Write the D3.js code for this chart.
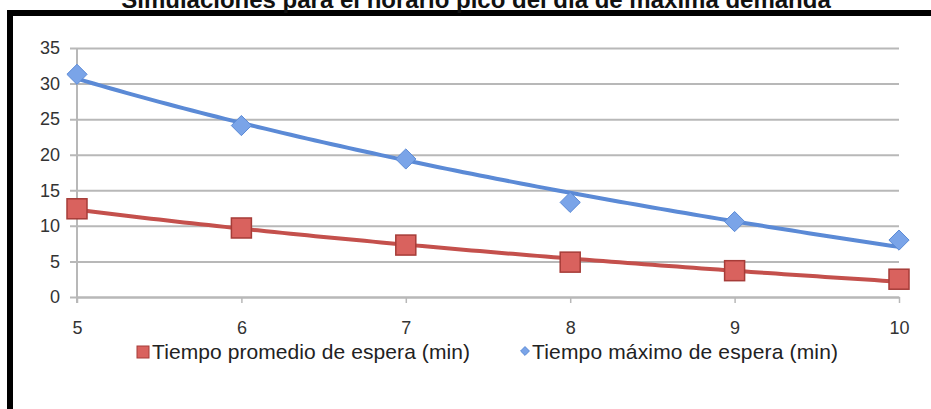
<!DOCTYPE html>
<html><head><meta charset="utf-8">
<script src="https://cdn.jsdelivr.net/npm/d3@7"></script>
<style>body{margin:0;background:#fff}svg{display:block}</style>
</head><body>
<svg id="c" width="931" height="409"></svg>
<script>
const title = "Simulaciones para el horario pico del día de máxima demanda";
const categories = [5, 6, 7, 8, 9, 10];
const promedio = [12.4, 9.7, 7.3, 4.9, 3.7, 2.5];
const maximo = [31.3, 24.1, 19.4, 13.3, 10.6, 8.0];
const yTicks = [0, 5, 10, 15, 20, 25, 30, 35];
const seriesNames = ["Tiempo promedio de espera (min)", "Tiempo máximo de espera (min)"];

const svg = d3.select("#c");
const font = "'Liberation Sans', Arial, Helvetica, sans-serif";

// frame
svg.append("rect").attr("x", 10).attr("y", 13).attr("width", 940).attr("height", 420)
  .attr("fill", "#fff").attr("stroke", "#000").attr("stroke-width", 6);

svg.append("text").attr("x", 476).attr("y", 8).attr("text-anchor", "middle")
  .attr("font-family", font).attr("font-weight", "bold").attr("font-size", 24).attr("fill", "#111")
  .text(title);

const x = d3.scaleLinear().domain([5, 10]).range([77, 899]);
const y = d3.scaleLinear().domain([0, 35]).range([297, 48]);

// gridlines
const gAxisY = svg.append("g").attr("transform", "translate(77,0)")
  .call(d3.axisLeft(y).tickValues(yTicks).tickSize(-822).tickPadding(17).tickSizeOuter(0));
gAxisY.select(".domain").remove();
gAxisY.selectAll(".tick line").attr("stroke", "#b8b8b8").attr("stroke-width", 2).attr("x1", -7);
gAxisY.selectAll(".tick text").attr("font-family", font).attr("font-size", 18).attr("fill", "#333");

const gAxisX = svg.append("g").attr("transform", "translate(0,297)")
  .call(d3.axisBottom(x).tickValues(categories).tickFormat(d3.format("d")).tickSize(6).tickPadding(18).tickSizeOuter(0));
gAxisX.select(".domain").attr("stroke", "#b8b8b8").attr("stroke-width", 2);
gAxisX.selectAll(".tick line").attr("stroke", "#b8b8b8").attr("stroke-width", 1.5);
gAxisX.selectAll(".tick text").attr("font-family", font).attr("font-size", 18).attr("fill", "#333");
// vertical axis line
svg.append("line").attr("x1", x(5)).attr("x2", x(5)).attr("y1", y(35)).attr("y2", y(0) + 6)
  .attr("stroke", "#b8b8b8").attr("stroke-width", 2);

// logarithmic trendline fit (least squares on ln x)
function logFit(xs, ys) {
  const lx = xs.map(Math.log);
  const ml = d3.mean(lx), my = d3.mean(ys);
  let sxy = 0, sxx = 0;
  lx.forEach((l, i) => { sxy += (l - ml) * (ys[i] - my); sxx += (l - ml) * (l - ml); });
  const b = sxy / sxx, a = my - b * ml;
  return v => a + b * Math.log(v);
}
const sampleX = d3.range(5, 10.0001, 0.05);
const line = d3.line().x(d => x(d[0])).y(d => y(d[1]));

const series = [
  {vals: promedio, color: "#c4504c", fill: "#d9625e", stroke: "#a63c38", shape: "square"},
  {vals: maximo, color: "#5b8ad6", fill: "#7aa4e8", stroke: "#5b8ad6", shape: "diamond"}
];

series.forEach(s => {
  const f = logFit(categories, s.vals);
  svg.append("path").attr("d", line(sampleX.map(v => [v, f(v)])))
    .attr("fill", "none").attr("stroke", s.color).attr("stroke-width", 4);
});

series.forEach(s => {
  const g = svg.append("g");
  categories.forEach((c, i) => {
    const cx = x(c), cy = y(s.vals[i]);
    if (s.shape === "square") {
      g.append("rect").attr("x", cx - 10).attr("y", cy - 10).attr("width", 20).attr("height", 20)
        .attr("fill", s.fill).attr("stroke", s.stroke).attr("stroke-width", 1.5);
    } else {
      g.append("path").attr("d", d3.symbol(d3.symbolDiamond2, 260)())
        .attr("transform", `translate(${cx},${cy})`)
        .attr("fill", s.fill).attr("stroke", s.stroke).attr("stroke-width", 1);
    }
  });
});

// legend
const leg = svg.append("g").attr("font-family", font).attr("font-size", 21).attr("fill", "#222");
leg.append("rect").attr("x", 137).attr("y", 346).attr("width", 12).attr("height", 12)
  .attr("fill", series[0].fill).attr("stroke", series[0].stroke);
leg.append("text").attr("x", 152).attr("y", 359).attr("textLength", 318).text(seriesNames[0]);
leg.append("path").attr("d", d3.symbol(d3.symbolDiamond2, 50)())
  .attr("transform", "translate(525,351)").attr("fill", series[1].fill).attr("stroke", series[1].stroke);
leg.append("text").attr("x", 532).attr("y", 359).attr("textLength", 306).text(seriesNames[1]);
</script>
</body></html>
